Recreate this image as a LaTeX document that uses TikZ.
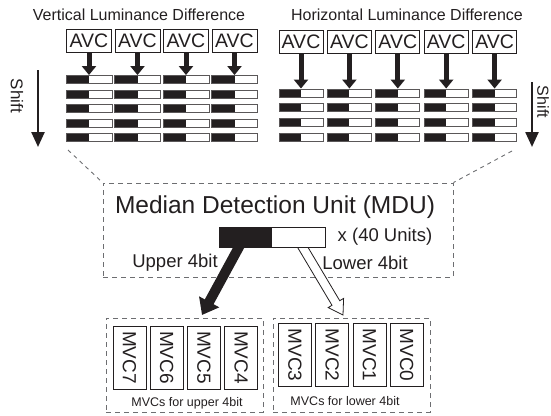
\documentclass[tikz,border=0pt]{standalone}
\usepackage{fontspec}
\setmainfont{Liberation Sans}
\usetikzlibrary{arrows.meta,calc}

\definecolor{ink}{HTML}{231F20}
\definecolor{dashgray}{HTML}{6D6E71}

\tikzset{
  avcbox/.style={draw=ink, line width=0.9pt, fill=white, minimum width=45pt, minimum height=23pt,
    inner sep=0pt, text=ink, font=\fontsize{19.5}{19.5}\selectfont},
  bitbar/.style={draw=ink!75, line width=0.9pt, fill=white, minimum width=46pt, minimum height=8pt,
    inner sep=0pt, path picture={\fill[ink] (path picture bounding box.south west)
      rectangle (path picture bounding box.north);}},
  mvcbox/.style={draw=ink, line width=0.8pt, minimum width=63pt, minimum height=33pt, inner sep=0pt,
    rotate=-90, text=ink, font=\fontsize{19}{19}\selectfont},
  dashbox/.style={draw=dashgray, line width=0.9pt, dash pattern=on 5pt off 4pt, inner sep=0pt},
  linkline/.style={draw=dashgray, line width=0.9pt, dash pattern=on 4pt off 4pt},
  avcarrow/.style={draw=ink, line width=5pt, -{Triangle[length=9pt,width=14pt]}},
  shiftarrow/.style={draw=ink, line width=2.4pt, -{Triangle[length=15pt,width=13pt]}},
  label/.style={text=ink, inner sep=0pt},
}

\begin{document}
\begin{tikzpicture}[x=1pt, y=-1pt]
  \useasboundingbox (0,0) rectangle (551,415);

  % vertical luminance difference
  \node[label, font=\fontsize{16}{16}\selectfont] (vtitle) at (139,15) {Vertical Luminance Difference};
  \foreach \i in {1,...,4} {
    \pgfmathsetmacro{\xc}{89+48.5*(\i-1)}
    \node[avcbox] (va-\i) at (\xc,40.5) {AVC};
    \foreach \j in {1,...,5} {
      \node[bitbar] (vb-\i-\j) at (\xc,{79.5+14.5*(\j-1)}) {};
    }
    \draw[avcarrow] (va-\i) -- (vb-\i-1);
  }
  \coordinate (vshifttop) at (38,70);
  \coordinate (vshiftend) at (38,147);
  \draw[shiftarrow] (vshifttop) -- (vshiftend);
  \node[label, rotate=-90, font=\fontsize{17}{17}\selectfont] (vshift) at (17,96) {Shift};

  % horizontal luminance difference
  \node[label, font=\fontsize{16}{16}\selectfont] (htitle) at (407,15) {Horizontal Luminance Difference};
  \foreach \i in {1,...,5} {
    \pgfmathsetmacro{\xc}{301+48.4*(\i-1)}
    \node[avcbox, minimum width=44pt] (ha-\i) at (\xc,41.5) {AVC};
    \foreach \j in {1,...,4} {
      \node[bitbar, minimum width=44pt] (hb-\i-\j) at (\xc,{93+14.7*(\j-1)}) {};
    }
    \draw[avcarrow] (ha-\i) -- (hb-\i-1);
  }
  \coordinate (hshifttop) at (532,82);
  \coordinate (hshiftend) at (532,147);
  \draw[shiftarrow] (hshifttop) -- (hshiftend);
  \node[label, rotate=-90, font=\fontsize{16}{16}\selectfont] (hshift) at (543,102) {Shift};

  % median detection unit
  \node[dashbox, minimum width=350pt, minimum height=94pt] (mdu) at (278,230) {};
  \coordinate (vcorner) at (68,150);
  \coordinate (hcorner) at (512,151);
  \draw[linkline] (vcorner) -- (mdu.north west);
  \draw[linkline] (hcorner) -- (mdu.north east);
  \node[label, font=\fontsize{24.5}{24.5}\selectfont] (mdutitle) at (275,207) {Median Detection Unit (MDU)};
  \node[label, font=\fontsize{18.5}{18.5}\selectfont] (units) at (385,237) {x (40 Units)};
  \node[label, font=\fontsize{18.5}{18.5}\selectfont] (upper) at (175,263) {Upper 4bit};
  \node[label, font=\fontsize{18.5}{18.5}\selectfont] (lower) at (365,263) {Lower 4bit};

  % outputs to the MVCs
  \coordinate (upsrc) at (242.8,240);
  \coordinate (uptip) at (202,315);
  \draw[ink, line width=10pt, -{Triangle[length=15pt,width=22pt]}] (upsrc) -- (uptip);
  \coordinate (losrc) at (298.4,240);
  \coordinate (lotip) at (343,315);
  \coordinate (lohead) at ($(losrc)!0.84!(lotip)$);
  \draw[ink, line width=0.8pt, fill=white, line join=miter]
    ($(losrc)!4.5pt!90:(lotip)$) -- ($(lohead)!4.5pt!90:(lotip)$) -- ($(lohead)!9pt!90:(lotip)$)
    -- (lotip) -- ($(lohead)!9pt!-90:(lotip)$) -- ($(lohead)!4.5pt!-90:(lotip)$)
    -- ($(losrc)!4.5pt!-90:(lotip)$) -- cycle;
  \node[bitbar, draw=ink, minimum width=106pt, minimum height=20pt] (mdubar) at (272,237) {};

  % MVC groups
  \node[dashbox, minimum width=157pt, minimum height=94pt] (upbox) at (184.5,365) {};
  \node[dashbox, minimum width=157pt, minimum height=94pt] (lobox) at (351.5,365) {};
  \foreach \k/\n in {0/7,1/6,2/5,3/4} {
    \node[mvcbox] (mvc\n) at ({129.5+37.2*\k},357.5) {MVC\n};
  }
  \foreach \k/\n in {0/3,1/2,2/1,3/0} {
    \node[mvcbox] (mvc\n) at ({295+37.2*\k},355) {MVC\n};
  }
  \node[label, font=\fontsize{12.5}{12.5}\selectfont] (upcap) at (187,403) {MVCs for upper 4bit};
  \node[label, font=\fontsize{12.5}{12.5}\selectfont] (locap) at (345,401) {MVCs for lower 4bit};
\end{tikzpicture}
\end{document}
